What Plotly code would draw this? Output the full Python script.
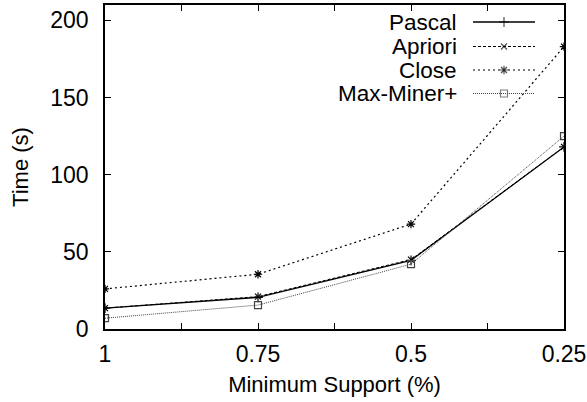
import plotly.graph_objects as go

support = [1, 0.75, 0.5, 0.25]
pascal = [13.5, 20.5, 44.5, 118]
apriori = [13.5, 21, 45, 118]
close = [26, 35.5, 68, 183]
maxminer = [7, 15.5, 42, 125]

names = ["Pascal", "Apriori", "Close", "Max-Miner+"]
xtick_vals = [1, 0.875, 0.75, 0.625, 0.5, 0.375, 0.25]
xtick_text = ["1", "", "0.75", "", "0.5", "", "0.25"]
ytick_vals = [0, 50, 100, 150, 200]

series = [pascal, apriori, close, maxminer]
styles = [
    dict(dash="solid", width=1.3, color="black", symbol="cross-thin-open", size=7),
    dict(dash="3px,2px", width=1, color="black", symbol="x-thin-open", size=6),
    dict(dash="2px,3px", width=1.2, color="black", symbol="asterisk-open", size=7),
    dict(dash="1px,1px", width=1, color="#444444", symbol="square-open", size=7),
]

FONT = "Liberation Sans, Arial, Helvetica, sans-serif"
fig = go.Figure()
for name, vals, st in zip(names, series, styles):
    fig.add_trace(go.Scatter(
        x=support, y=vals, name=name, mode="lines+markers",
        line=dict(color=st["color"], width=st["width"], dash=st["dash"]),
        marker=dict(symbol=st["symbol"], size=st["size"], color=st["color"],
                    line=dict(width=1.2, color=st["color"])),
        showlegend=False,
    ))

# manual legend (text right, sample on right) drawn on an overlay axis in [0,1]
L, R, T, B = 105, 564, 5, 329
row_py = [22, 46.5, 70, 93.5]
for name, st, py in zip(names, styles, row_py):
    fy = (B - py) / (B - T)
    fig.add_trace(go.Scatter(
        x=[(473 - L) / (R - L), (504 - L) / (R - L), (535 - L) / (R - L)],
        y=[fy, fy, fy], xaxis="x2", yaxis="y2", mode="lines+markers",
        line=dict(color=st["color"], width=st["width"], dash=st["dash"]),
        marker=dict(symbol=st["symbol"], size=[0, st["size"], 0], color=st["color"],
                    line=dict(width=1.2, color=st["color"])),
        showlegend=False, hoverinfo="skip",
    ))
    fig.add_annotation(text=name, xref="paper", yref="paper",
                       x=(459 - L) / (R - L), y=fy, xanchor="right", yanchor="middle",
                       showarrow=False, font=dict(size=22.5, family=FONT, color="black"))

axis_common = dict(showline=True, linecolor="black", linewidth=1.5, mirror="allticks",
                   ticks="inside", ticklen=6, tickcolor="black", tickwidth=1,
                   showgrid=False, zeroline=False, automargin=False)
fig.update_layout(
    width=587, height=402,
    margin=dict(l=L, r=587 - R, t=T, b=402 - B),
    paper_bgcolor="white", plot_bgcolor="white",
    font=dict(family=FONT, size=23, color="black"),
    xaxis=dict(range=[1, 0.25], tickvals=xtick_vals, ticktext=xtick_text,
               ticklabelstandoff=4,
               title=dict(text="Minimum Support (%)", font=dict(size=22), standoff=10),
               **axis_common),
    yaxis=dict(range=[0, 210], tickvals=ytick_vals, ticklabelstandoff=10,
               title=dict(text="Time (s)", font=dict(size=22), standoff=16),
               **axis_common),
    xaxis2=dict(overlaying="x", range=[0, 1], visible=False),
    yaxis2=dict(overlaying="y", range=[0, 1], visible=False),
)
fig.write_html("out.html", config={"displayModeBar": False},
               post_script="document.body.style.margin='0';document.body.style.padding='0';")
